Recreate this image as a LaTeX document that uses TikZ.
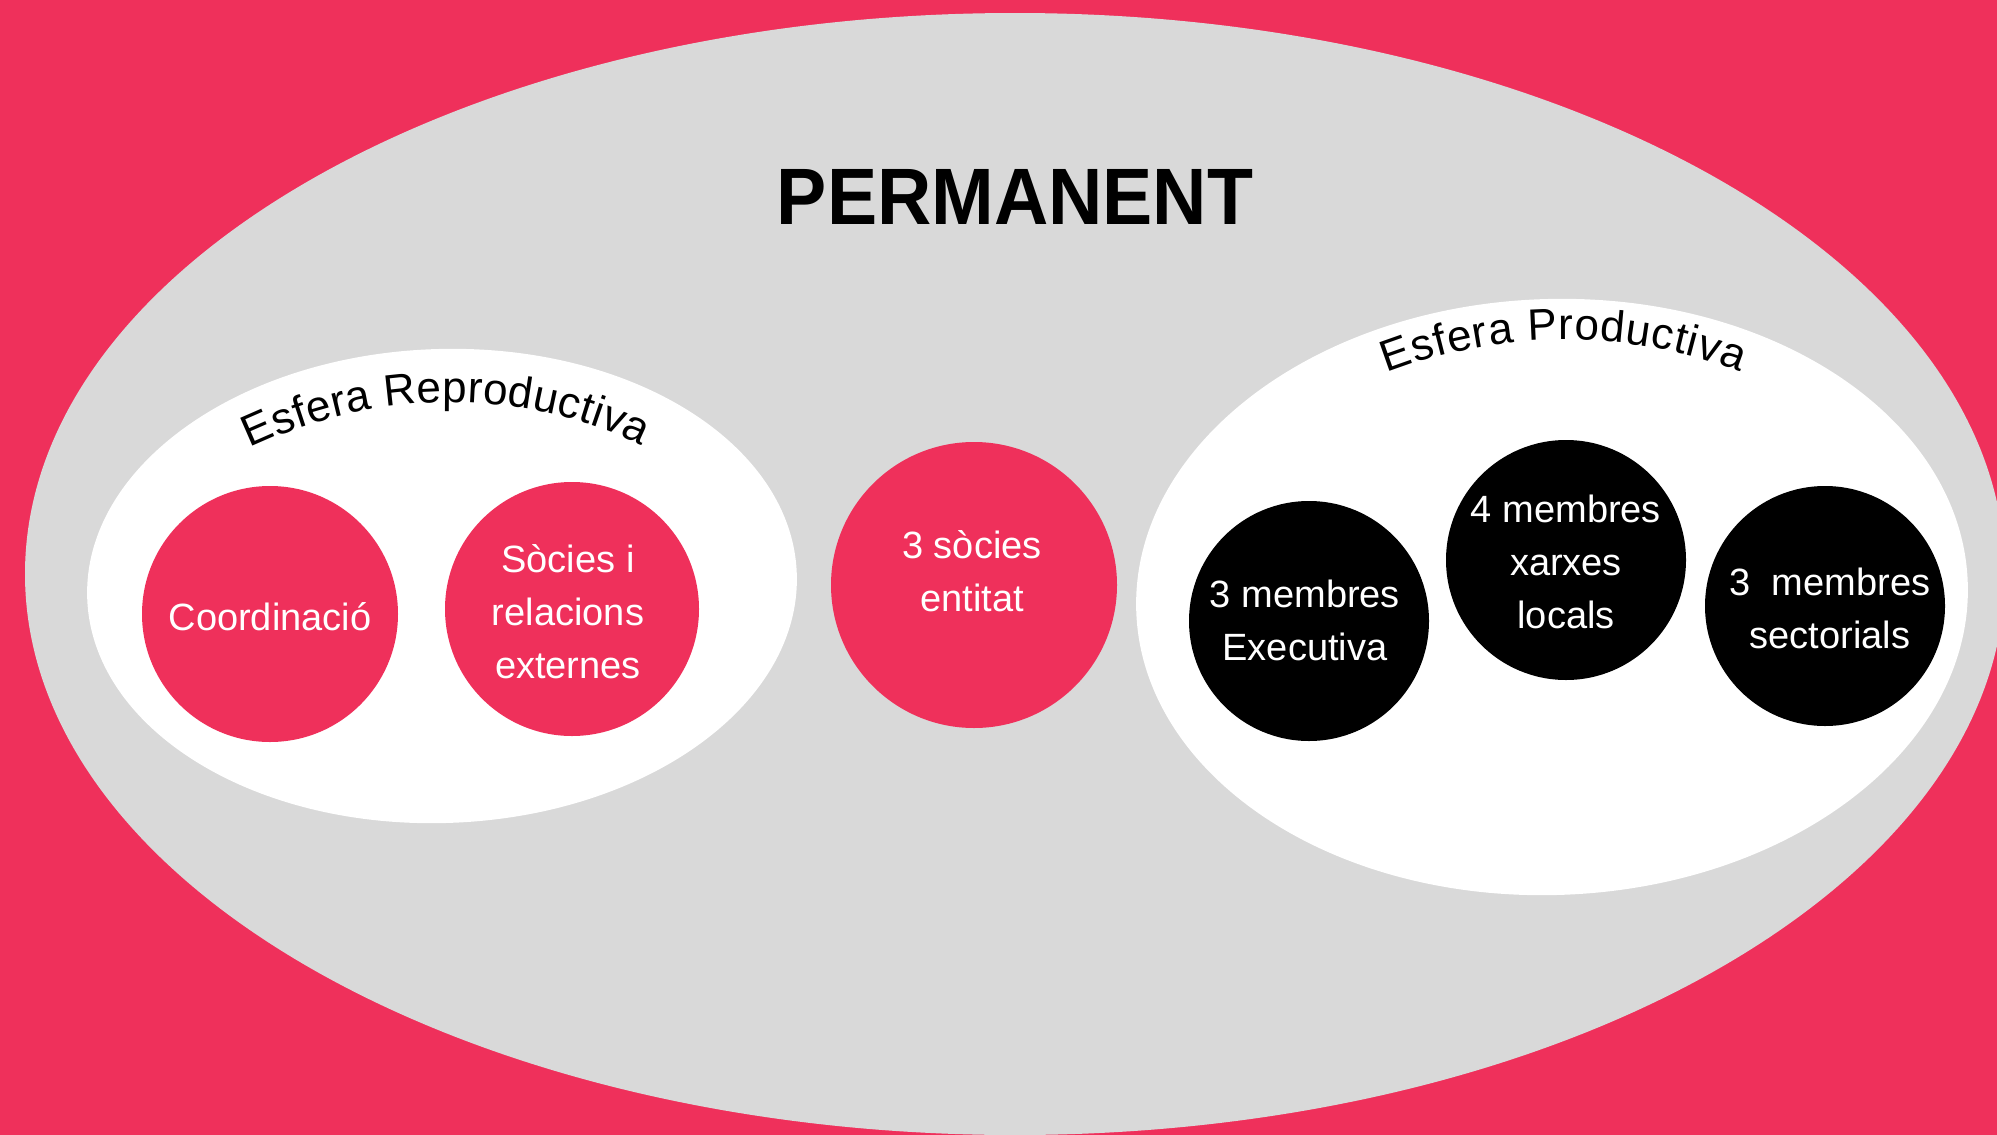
\documentclass[tikz,border=0pt]{standalone}
\usepackage{fontspec}
\usepackage{graphicx}
\setmainfont{Liberation Sans}
\usetikzlibrary{shapes.geometric,decorations.text}
\definecolor{bgpink}{RGB}{239,48,91}
\definecolor{lightgrey}{RGB}{217,217,217}
\begin{document}
\begin{tikzpicture}[x=1pt,y=-1pt,
  ball/.style={circle, inner sep=0pt, draw=none, minimum size=#1},
  pinkball/.style={ball=#1, fill=bgpink},
  blackball/.style={ball=#1, fill=black},
  balltext/.style={text=white, align=center, inner sep=0pt,
    font=\fontsize{38}{53}\selectfont},
  sphere/.style={ellipse, draw=none, inner sep=0pt},
  curvetext/.style={decorate, decoration={text along path, text align={fit to path},
    text={|\fontsize{44}{44}\selectfont|#1}}}
]
\fill[bgpink] (0,0) rectangle (1997,1135);
\useasboundingbox (0,0) rectangle (1997,1135);
\clip (0,0) rectangle (1997,1135);

% outer grey ellipse
\node[sphere, fill=lightgrey, minimum width=1980pt, minimum height=1122pt] (perm) at (1015,574) {};
\node[anchor=base, inner sep=0pt, font=\fontsize{80}{80}\selectfont\bfseries] (title) at (1015,224) {\scalebox{0.94}[1]{PERMANENT}};

% white spheres
\node[sphere, fill=white, minimum width=710pt, minimum height=474pt, rotate=2] (repro) at (442,586) {};
\node[sphere, fill=white, minimum width=832pt, minimum height=596pt, rotate=2] (prod) at (1552,597) {};

\path[curvetext={Esfera Reproductiva}] (250,448) .. controls (373.5,389.5) and (519.3,385.9) .. (642,446);
\path[curvetext={Esfera Productiva}] (1387,373) .. controls (1500.5,329.3) and (1626.5,328.1) .. (1740,372);

% circles
\node[pinkball=256pt] (coord) at (270,614) {};
\node[pinkball=254pt] (socies) at (572,609) {};
\node[pinkball=286pt] (entitat) at (974,585) {};
\node[blackball=240pt] (exec) at (1309,621) {};
\node[blackball=240pt] (xarxes) at (1566,560) {};
\node[blackball=240pt] (sector) at (1825,606) {};

% texts
\node[balltext] (tcoord) at (270,619.4) {\strut Coordinació};
\node[balltext] (tsocies) at (568,615.1) {\strut Sòcies i\\\strut relacions\\\strut externes};
\node[balltext] (tentitat) at (972,574.4) {\strut 3 sòcies\\\strut entitat};
\node[balltext] (texec) at (1305,623.4) {\strut 3 membres\\\strut Executiva};
\node[balltext] (txarxes) at (1566,564.4) {\strut 4 membres\\\strut xarxes\\\strut locals};
\node[balltext] (tsector) at (1830,610.9) {\strut 3\ \ membres\\\strut sectorials};
\end{tikzpicture}
\end{document}
